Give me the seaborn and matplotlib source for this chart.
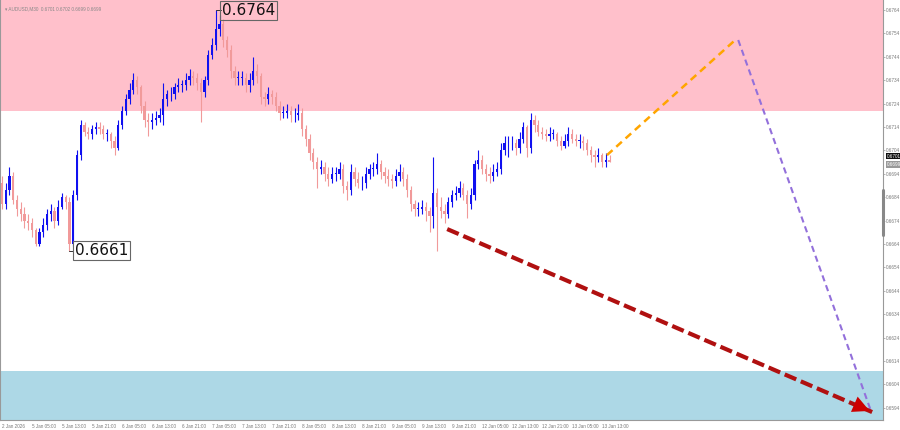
import numpy as np
import pandas as pd
import seaborn as sns
import matplotlib.pyplot as plt

# AUDUSD hourly-ish candles (open = previous close)
closes = [0.6681, 0.6687, 0.6693, 0.6683, 0.6679, 0.6677, 0.6674, 0.6673, 0.6670, 0.6664,
          0.6669, 0.6672, 0.6677, 0.6678, 0.6674, 0.6680, 0.6684, 0.6682, 0.6664, 0.6685,
          0.6702, 0.6715, 0.6712, 0.6711, 0.6713, 0.6714, 0.6713, 0.6711, 0.6711, 0.6708,
          0.6705, 0.6715, 0.6721, 0.6726, 0.6730, 0.6734, 0.6731, 0.6723, 0.6717, 0.6716,
          0.6717, 0.6718, 0.6719, 0.6726, 0.6728, 0.6728, 0.6731, 0.6732, 0.6732, 0.6734,
          0.6736, 0.6735, 0.6733, 0.6729, 0.6734, 0.6745, 0.6749, 0.6756, 0.6758, 0.6751,
          0.6747, 0.6738, 0.6735, 0.6735, 0.6735, 0.6732, 0.6734, 0.6738, 0.6736, 0.6727,
          0.6726, 0.6728, 0.6727, 0.6723, 0.6720, 0.6720, 0.6721, 0.6719, 0.6719, 0.6720,
          0.6713, 0.6709, 0.6703, 0.6699, 0.6696, 0.6697, 0.6694, 0.6692, 0.6694, 0.6694,
          0.6696, 0.6689, 0.6687, 0.6695, 0.6692, 0.6690, 0.6690, 0.6694, 0.6696, 0.6696,
          0.6698, 0.6695, 0.6693, 0.6692, 0.6691, 0.6693, 0.6695, 0.6692, 0.6687, 0.6681,
          0.6679, 0.6679, 0.6680, 0.6678, 0.6676, 0.6686, 0.6680, 0.6678, 0.6677, 0.6682,
          0.6685, 0.6686, 0.6688, 0.6685, 0.6681, 0.6685, 0.6698, 0.6700, 0.6696, 0.6694,
          0.6693, 0.6695, 0.6696, 0.6704, 0.6707, 0.6707, 0.6707, 0.6705, 0.6709, 0.6714,
          0.6705, 0.6717, 0.6715, 0.6712, 0.6711, 0.6710, 0.6711, 0.6711, 0.6708, 0.6706,
          0.6708, 0.6711, 0.6709, 0.6708, 0.6708, 0.6707, 0.6704, 0.6702, 0.6701, 0.6702,
          0.6699, 0.6700, 0.6699]
highs = [0.6693, 0.6690, 0.6697, 0.6695, 0.6685, 0.6682, 0.6680, 0.6677, 0.6675, 0.6671,
         0.6671, 0.6675, 0.6679, 0.6681, 0.6680, 0.6683, 0.6686, 0.6685, 0.6684, 0.6687,
         0.6704, 0.6717, 0.6716, 0.6714, 0.6715, 0.6716, 0.6716, 0.6715, 0.6713, 0.6712,
         0.6710, 0.6717, 0.6723, 0.6728, 0.6733, 0.6737, 0.6736, 0.6732, 0.6725, 0.6720,
         0.6720, 0.6721, 0.6722, 0.6733, 0.6730, 0.6731, 0.6733, 0.6735, 0.6734, 0.6737,
         0.6739, 0.6738, 0.6737, 0.6735, 0.6736, 0.6747, 0.6752, 0.6764, 0.6762, 0.6760,
         0.6753, 0.6749, 0.6740, 0.6738, 0.6738, 0.6737, 0.6737, 0.6744, 0.6741, 0.6737,
         0.6729, 0.6731, 0.6730, 0.6729, 0.6725, 0.6723, 0.6724, 0.6723, 0.6722, 0.6724,
         0.6722, 0.6715, 0.6711, 0.6705, 0.6701, 0.6700, 0.6699, 0.6697, 0.6697, 0.6697,
         0.6699, 0.6698, 0.6691, 0.6698, 0.6697, 0.6695, 0.6693, 0.6697, 0.6698, 0.6699,
         0.6703, 0.6700, 0.6697, 0.6696, 0.6694, 0.6696, 0.6698, 0.6697, 0.6694, 0.6689,
         0.6683, 0.6682, 0.6683, 0.6682, 0.6680, 0.6701, 0.6688, 0.6684, 0.6681, 0.6684,
         0.6687, 0.6689, 0.6691, 0.6690, 0.6687, 0.6688, 0.6700, 0.6704, 0.6702, 0.6698,
         0.6697, 0.6698, 0.6699, 0.6707, 0.6710, 0.6710, 0.6710, 0.6709, 0.6712, 0.6716,
         0.6715, 0.6720, 0.6719, 0.6717, 0.6714, 0.6713, 0.6714, 0.6713, 0.6712, 0.6710,
         0.6711, 0.6714, 0.6713, 0.6711, 0.6711, 0.6710, 0.6709, 0.6706, 0.6704, 0.6705,
         0.6703, 0.6703, 0.6702]
lows = [0.6679, 0.6679, 0.6685, 0.6681, 0.6676, 0.6674, 0.6671, 0.6670, 0.6667, 0.6663,
        0.6663, 0.6667, 0.6670, 0.6674, 0.6671, 0.6672, 0.6679, 0.6679, 0.6661, 0.6663,
        0.6683, 0.6700, 0.6710, 0.6709, 0.6709, 0.6711, 0.6711, 0.6709, 0.6708, 0.6705,
        0.6702, 0.6704, 0.6713, 0.6719, 0.6724, 0.6728, 0.6728, 0.6720, 0.6714, 0.6710,
        0.6713, 0.6715, 0.6716, 0.6715, 0.6723, 0.6725, 0.6726, 0.6729, 0.6729, 0.6730,
        0.6732, 0.6732, 0.6730, 0.6716, 0.6727, 0.6732, 0.6743, 0.6747, 0.6753, 0.6748,
        0.6744, 0.6735, 0.6732, 0.6732, 0.6732, 0.6729, 0.6729, 0.6732, 0.6733, 0.6724,
        0.6723, 0.6724, 0.6724, 0.6721, 0.6717, 0.6718, 0.6718, 0.6716, 0.6716, 0.6717,
        0.6710, 0.6706, 0.6700, 0.6696, 0.6688, 0.6694, 0.6691, 0.6689, 0.6690, 0.6691,
        0.6692, 0.6686, 0.6683, 0.6685, 0.6689, 0.6688, 0.6687, 0.6688, 0.6692, 0.6693,
        0.6694, 0.6692, 0.6690, 0.6689, 0.6688, 0.6689, 0.6691, 0.6689, 0.6684, 0.6678,
        0.6676, 0.6676, 0.6677, 0.6674, 0.6669, 0.6671, 0.6661, 0.6675, 0.6673, 0.6675,
        0.6680, 0.6683, 0.6684, 0.6683, 0.6675, 0.6679, 0.6683, 0.6696, 0.6694, 0.6691,
        0.6690, 0.6691, 0.6693, 0.6694, 0.6702, 0.6701, 0.6704, 0.6702, 0.6703, 0.6707,
        0.6701, 0.6703, 0.6712, 0.6710, 0.6709, 0.6708, 0.6708, 0.6709, 0.6706, 0.6704,
        0.6705, 0.6706, 0.6707, 0.6706, 0.6705, 0.6704, 0.6702, 0.6699, 0.6697, 0.6699,
        0.6697, 0.6697, 0.6699]
first_open = 0.6690

tick_labels = ["2 Jan 2026", "5 Jan 05:00", "5 Jan 13:00", "5 Jan 21:00", "6 Jan 05:00",
               "6 Jan 13:00", "6 Jan 21:00", "7 Jan 05:00", "7 Jan 13:00", "7 Jan 21:00",
               "8 Jan 05:00", "8 Jan 13:00", "8 Jan 21:00", "9 Jan 05:00", "9 Jan 13:00",
               "9 Jan 21:00", "12 Jan 05:00", "12 Jan 13:00", "12 Jan 21:00", "13 Jan 05:00",
               "13 Jan 13:00"]

# zones and forecast paths
resistance_zone = (0.67208, 0.6780)
support_zone = (0.6560, 0.66097)
orange_x = [161.3, 195.5]
orange_y = [0.67020, 0.67512]
purple_x = [196.3, 231.5]
purple_y = [0.67512, 0.65935]
red_x = [118.7, 232.0]
red_y = [0.66704, 0.65922]

df = pd.DataFrame({"close": closes, "high": highs, "low": lows})
df["open"] = [first_open] + closes[:-1]
df["bar"] = np.arange(len(df))
df["up"] = df["close"] >= df["open"]

sns.set_theme(style="white")
plt.rcParams["font.family"] = ["DejaVu Sans"]
small = dict(fontsize=3.3, family=["Liberation Sans", "DejaVu Sans"])

fig = plt.figure(figsize=(9, 4.3), dpi=100)
ax = fig.add_axes([0.0, 10 / 430, 883 / 900, 420 / 430])

ax.axhspan(*resistance_zone, color="#ffc0cb", lw=0, zorder=0)
ax.axhspan(*support_zone, color="#add8e6", lw=0, zorder=0)

bull, bear = "#1010f0", "#f19a9a"
for up, col in [(True, bull), (False, bear)]:
    d = df[df["up"] == up]
    ax.vlines(d["bar"], d["low"], d["high"], color=col, lw=0.8, zorder=2)
    body = (d["close"] - d["open"]).abs().clip(lower=0.00003)
    ax.bar(d["bar"], body, bottom=d[["open", "close"]].min(axis=1), width=0.6,
           color=col, lw=0, zorder=3)

# forecast lines
sns.lineplot(x=orange_x, y=orange_y, ax=ax, color="#ffa500", lw=1.8,
             linestyle=(0, (3, 2)), zorder=4)
sns.lineplot(x=purple_x, y=purple_y, ax=ax, color="#9370db", lw=1.5,
             linestyle=(0, (3, 2)), zorder=4)
ax.plot(red_x, red_y, color="#b01010", lw=3, linestyle=(0, (3, 1.2)), zorder=5)
ax.annotate("", xy=(red_x[1], red_y[1]), xytext=(red_x[1] - 4, red_y[1] + 0.00028),
            arrowprops=dict(arrowstyle="-|>", color="#cc0000", lw=0,
                            mutation_scale=30), zorder=6)

# price labels at extremes
hi_i = int(np.argmax(highs))
lo_i = int(np.argmin(lows))
ax.plot([hi_i, hi_i + 1.5], [highs[hi_i]] * 2, color="#333", lw=0.7, zorder=4)
ax.text(hi_i + 1.6, highs[hi_i] - 0.00002, f"{highs[hi_i]:.4f}", fontsize=11, va="center",
        ha="left", color="#111",
        bbox=dict(boxstyle="square,pad=0.12", fc="none", ec="#666", lw=0.8), zorder=7)
ax.plot([lo_i, lo_i + 1.3], [lows[lo_i]] * 2, color="#333", lw=0.7, zorder=4)
ax.text(lo_i + 1.4, lows[lo_i] + 0.00002, f"{lows[lo_i]:.4f}", fontsize=11, va="center",
        ha="left", color="#111",
        bbox=dict(boxstyle="square,pad=0.12", fc="white", ec="#666", lw=0.8), zorder=7)

ax.set_xlim(-0.53, 234.9)
ax.set_ylim(0.65888, 0.67683)

yt = np.round(np.arange(0.6594, 0.67645, 0.001), 4)
ax.yaxis.tick_right()
ax.set_yticks(yt)
ax.set_yticklabels([f"{v:.4f}" for v in yt], color="#777", **small)
ax.set_xticks(np.arange(0, 161, 8))
ax.set_xticklabels(tick_labels, color="#777", ha="left", **small)
ax.tick_params(axis="y", length=1.5, width=0.5, color="#999", pad=0.8)
ax.tick_params(axis="x", length=2, width=0.5, color="#999", pad=1.0)

ax.spines["top"].set_visible(False)
for s in ["left", "right", "bottom"]:
    ax.spines[s].set_color("#999")
    ax.spines[s].set_linewidth(0.8)
# darker stretch on the price scale
ax.plot([1.0, 1.0], [0.66871, 0.66678], transform=ax.get_yaxis_transform(),
        color="#888", lw=2.2, clip_on=False, zorder=8)

# header and current price tags
ax.text(0.006, 0.985, "\u25be AUDUSD,M30  0.6701 0.6702 0.6699 0.6699", transform=ax.transAxes,
        color="#888", va="top", ha="left", **small)
ax.text(1.004, 0.67015, "0.6701", transform=ax.get_yaxis_transform(),
        color="white", va="center", ha="left", **small,
        bbox=dict(boxstyle="square,pad=0.12", fc="#111", ec="none"))
ax.text(1.004, 0.66980, "0.6699", transform=ax.get_yaxis_transform(),
        color="white", va="center", ha="left", **small,
        bbox=dict(boxstyle="square,pad=0.12", fc="#999", ec="none"))

fig.savefig("out.png", dpi=100, facecolor="white")
